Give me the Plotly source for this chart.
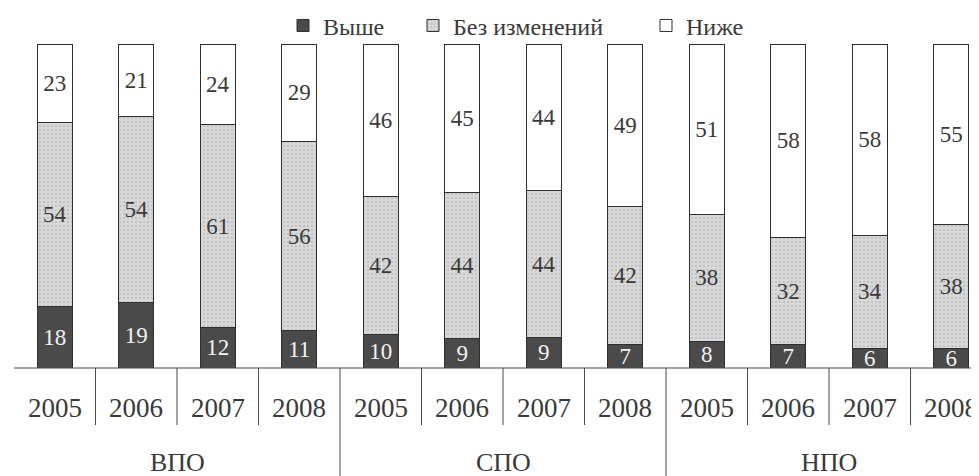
import plotly.graph_objects as go

groups = ["ВПО", "СПО", "НПО"]
years = ["2005", "2006", "2007", "2008"]
higher = [18, 19, 12, 11, 10, 9, 9, 7, 8, 7, 6, 6]
same = [54, 54, 61, 56, 42, 44, 44, 42, 38, 32, 34, 38]
lower = [23, 21, 24, 29, 46, 45, 44, 49, 51, 58, 58, 55]
series_names = ["Выше", "Без изменений", "Ниже"]

cats = [f"{g} {y}" for g in groups for y in years]

FONT = "Liberation Serif, Times New Roman, serif"
TXT = "#3a3a3a"
EDGE = "#2e2e2e"
LBL = 23

common = dict(textposition="inside", insidetextanchor="middle", constraintext="none",
              textangle=0, width=0.43)

fig = go.Figure()
fig.add_trace(go.Bar(
    x=cats, y=higher, name=series_names[0], text=higher, legend="legend",
    marker=dict(color="#4a4a4a", line=dict(color=EDGE, width=1)),
    textfont=dict(color="#f2f2f2", size=LBL, family=FONT), **common,
))
fig.add_trace(go.Bar(
    x=cats, y=same, name=series_names[1], text=same, legend="legend2",
    marker=dict(color="#d6d6d6", line=dict(color=EDGE, width=1),
                pattern=dict(shape=".", fgcolor="#a8a8a8", bgcolor="#d9d9d9",
                             size=4, solidity=0.25)),
    textfont=dict(color=TXT, size=LBL, family=FONT), **common,
))
fig.add_trace(go.Bar(
    x=cats, y=lower, name=series_names[2], text=lower, legend="legend3",
    marker=dict(color="#ffffff", line=dict(color=EDGE, width=1)),
    textfont=dict(color=TXT, size=LBL, family=FONT), **common,
))

n = len(cats)
shapes = []
line_style = dict(color="#4a4a4a", width=1)
shapes.append(dict(type="line", xref="x", yref="paper", x0=-0.525, x1=11.4, y0=0, y1=0, line=line_style))
shapes.append(dict(type="line", xref="x", yref="paper", x0=-0.525, x1=-0.525, y0=0, y1=-0.34, line=line_style))
for i in range(1, n):
    bottom = -0.34 if i % len(years) == 0 else -0.176
    shapes.append(dict(type="line", xref="x", yref="paper", x0=i - 0.5, x1=i - 0.5,
                       y0=0, y1=bottom, line=line_style))

annotations = []
for i, c in enumerate(cats):
    annotations.append(dict(x=i, y=-0.124, xref="x", yref="paper", text=years[i % len(years)],
                            showarrow=False, yanchor="middle",
                            font=dict(size=27, color=TXT, family=FONT)))
for gi, g in enumerate(groups):
    annotations.append(dict(x=gi * len(years) + (len(years) - 1) / 2, y=-0.293, xref="x", yref="paper",
                            text=g, showarrow=False, yanchor="middle",
                            font=dict(size=26, color=TXT, family=FONT)))

PW = 965
leg_common = dict(orientation="h", xanchor="left", y=1.056, yanchor="middle",
                  font=dict(size=24, color=TXT, family=FONT), bgcolor="rgba(0,0,0,0)")
fig.update_layout(
    barmode="stack", barnorm="percent",
    width=971, height=468,
    margin=dict(l=6, r=0, t=36, b=108, autoexpand=False),
    paper_bgcolor="white", plot_bgcolor="white",
    font=dict(family=FONT, color=TXT),
    showlegend=True,
    legend=dict(x=(283 - 14) / PW, **leg_common),
    legend2=dict(x=(413 - 14) / PW, **leg_common),
    legend3=dict(x=(646 - 14) / PW, **leg_common),
    xaxis=dict(visible=False, range=[-0.5, 11.34]),
    yaxis=dict(visible=False, range=[0, 100]),
    shapes=shapes, annotations=annotations,
)

fig.write_html("out.html")
